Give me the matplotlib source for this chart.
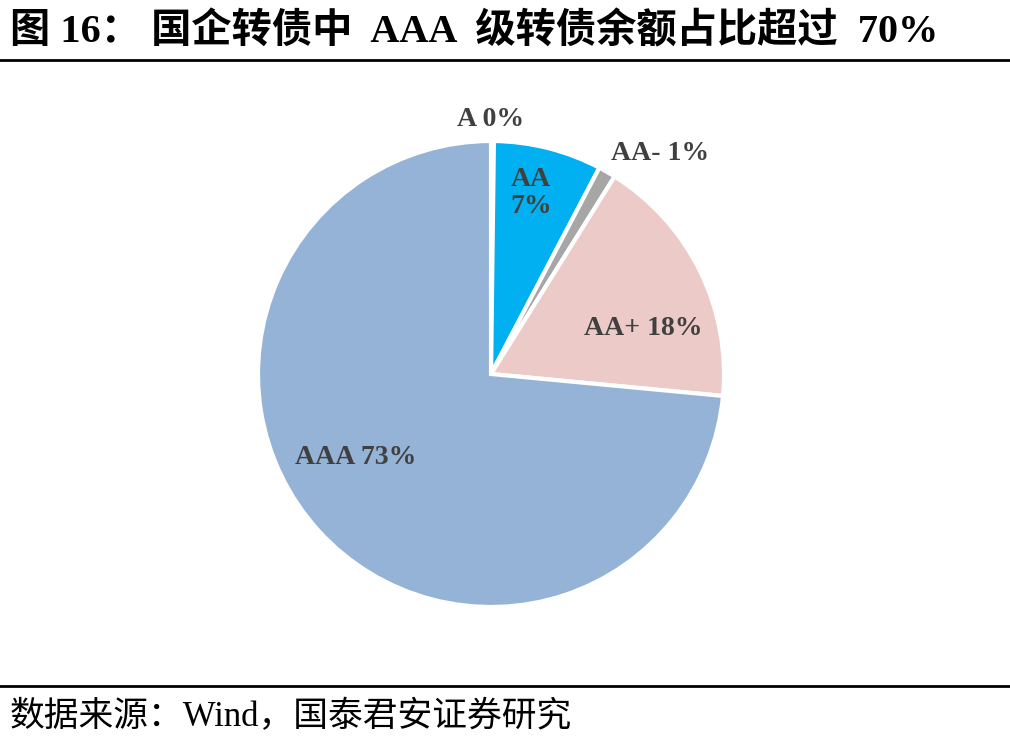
import matplotlib.pyplot as plt
from matplotlib.lines import Line2D

plt.rcParams['font.family'] = ['Liberation Serif', 'Noto Sans CJK SC']

# rating buckets, clockwise from 12 o'clock
ratings = ['A', 'AA', 'AA-', 'AA+', 'AAA']
shares = [0.2, 7.5, 1.2, 17.6, 73.5]
label_text = ['A 0%', 'AA\n7%', 'AA- 1%', 'AA+ 18%', 'AAA 73%']
colors = ['#C00000', '#00B0F0', '#A6A6A6', '#ECCAC8', '#95B3D7']

title = '图 16： 国企转债中  AAA  级转债余额占比超过  70%'
source = '数据来源：Wind，国泰君安证券研究'

W, H = 1010, 744
fig = plt.figure(figsize=(W / 100, H / 100), dpi=100)

cx, cy, r = 491, 374, 233
ax = fig.add_axes([(cx - r) / W, (H - cy - r) / H, 2 * r / W, 2 * r / H])
ax.pie(shares, colors=colors, startangle=90, counterclock=False,
       wedgeprops=dict(edgecolor='white', linewidth=3))
ax.set_xlim(-1, 1)
ax.set_ylim(-1, 1)
ax.set_aspect('equal')
ax.axis('off')

# label positions in pixels (x, y from top)
label_pos = [(491, 120), (531, 193), (660, 153), (643, 328), (356, 458)]
for txt, (x, y) in zip(label_text, label_pos):
    fig.text(x / W, 1 - y / H, txt, ha='center', va='center', fontsize=20,
             fontweight='bold', color='#404040', linespacing=1.1)

fig.text(10 / W, 1 - 32 / H, title, ha='left', va='center', fontsize=29,
         fontweight='bold', color='black')
fig.text(10 / W, 1 - 718 / H, source, ha='left', va='center', fontsize=25,
         color='black')

fig.add_artist(Line2D([0, 1], [1 - 60 / H, 1 - 60 / H], color='black', lw=2,
                      transform=fig.transFigure))
fig.add_artist(Line2D([0, 1], [1 - 686 / H, 1 - 686 / H], color='black', lw=2,
                      transform=fig.transFigure))

fig.savefig('out.png', dpi=100)
